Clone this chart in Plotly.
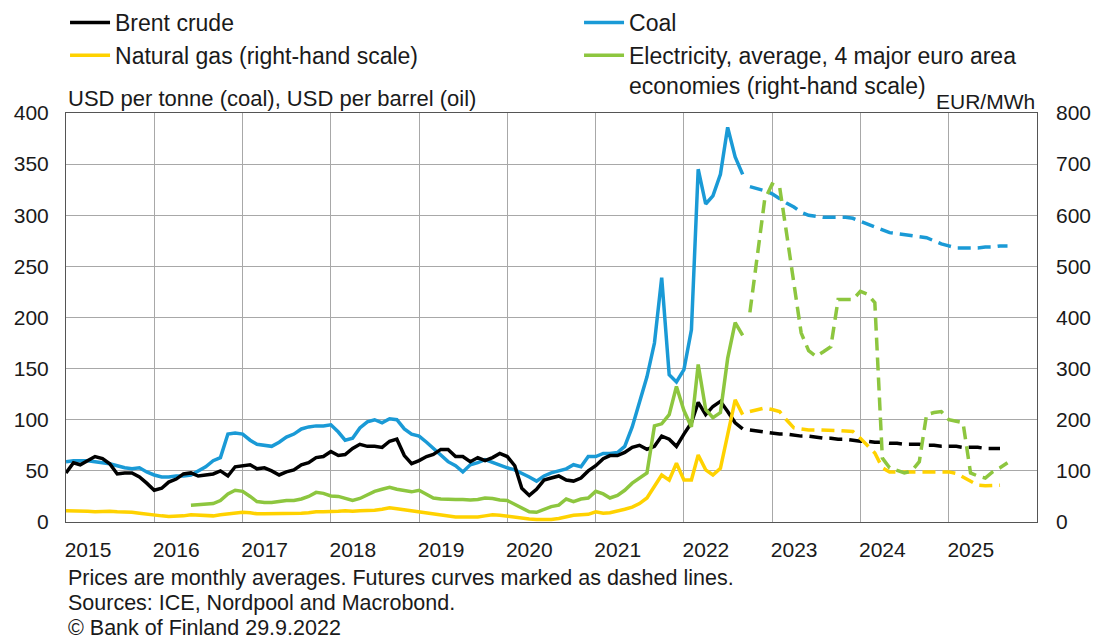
import pandas as pd
import plotly.graph_objects as go

# monthly averages, Jan 2015 - Sep 2022
months = pd.date_range("2015-01-01", "2022-09-01", freq="MS")
elec_months = pd.date_range("2016-06-01", "2022-09-01", freq="MS")
# futures curves
fut_months = pd.date_range("2022-10-01", "2025-09-01", freq="MS")
years = list(range(2015, 2026))

brent = [
    48, 58, 56, 60, 64, 62, 57, 47, 48, 48, 44, 38,
    31, 33, 39, 42, 47, 48, 45, 46, 47, 50, 45, 54,
    55, 56, 52, 53, 50, 46, 49, 51, 56, 58, 63, 64,
    69, 65, 66, 72, 76, 74, 74, 73, 79, 81, 65, 57,
    60, 64, 66, 71, 71, 64, 64, 59, 63, 60, 63, 67,
    64, 55, 33, 26, 32, 41, 43, 45, 41, 40, 43, 50,
    55, 62, 65, 65, 68, 73, 75, 71, 74, 84, 81, 74,
    86, 97, 117, 105, 113, 118, 108, 97, 91,
]
coal = [
    59, 60, 60, 60, 59, 58, 57, 55, 53, 52, 53, 49,
    46, 44, 44, 45, 45, 46, 50, 54, 60, 63, 86, 87,
    86, 80, 76, 75, 74, 78, 83, 86, 91, 93, 94, 94,
    95, 88, 80, 82, 92, 98, 100, 97, 101, 100, 91, 86,
    84, 78, 72, 65, 59, 55, 49, 56, 58, 61, 58, 56,
    53, 51, 48, 44, 40, 45, 48, 50, 52, 56, 54, 64,
    64, 67, 67, 68, 74, 93, 116, 142, 175, 239, 144, 137,
    149, 188, 345, 311, 319, 340, 386, 357, 340,
]
gas = [
    22, 22, 21, 21, 20, 21, 21, 20, 20, 19, 17, 15,
    13, 12, 11, 11, 12, 14, 13, 12, 12, 14, 16, 17,
    19, 18, 16, 16, 16, 16, 16, 16, 17, 18, 20, 20,
    20, 21, 22, 21, 22, 22, 23, 25, 28, 26, 24, 22,
    20, 17, 15, 14, 12, 10, 10, 10, 10, 12, 14, 13,
    11, 10, 8, 6, 5, 5, 5, 7, 10, 13, 14, 15,
    20, 17, 18, 21, 25, 29, 36, 47, 69, 92, 82, 115,
    82, 82, 131, 102, 92, 105, 171, 239, 210,
]
electricity = [
    33, 34, 34, 36, 42, 55, 62,
    60, 50, 40, 38, 38, 40, 42, 42, 45, 50, 58, 56,
    51, 50, 47, 42, 46, 53, 60, 64, 68, 64, 61, 59,
    62, 55, 47, 45, 44, 44, 44, 43, 44, 47, 46, 43,
    42, 34, 28, 20, 19, 24, 30, 33, 45, 40, 45, 47,
    60, 55, 47, 52, 62, 76, 86, 96, 188, 192, 210, 265,
    218, 186, 308, 220, 204, 214, 320, 390, 365,
]

brent_fut = [
    90, 89, 88, 87, 86, 86, 85, 84, 84, 83, 82, 82,
    81, 81, 80, 79, 79, 78, 78, 77, 77, 76, 76, 76,
    75, 75, 74, 74, 74, 73, 73, 73, 72, 72, 72,
]
coal_fut = [
    328, 326, 324, 321, 316, 312, 308, 303, 300, 299, 298, 298,
    298, 298, 297, 294, 291, 288, 285, 283, 282, 281, 280, 279,
    278, 275, 272, 270, 268, 268, 268, 268, 269, 269, 270, 270,
]
gas_fut = [
    216, 220, 223, 220, 216, 200, 184, 182, 180, 180, 180, 180,
    179, 178, 177, 164, 150, 135, 106, 98, 98, 98, 98, 98,
    98, 98, 98, 98, 95, 88, 80, 72, 71, 71, 72,
]
electricity_fut = [
    410, 520, 630, 661, 655, 567, 461, 370, 335, 324, 333, 343,
    435, 435, 435, 451, 445, 429, 125, 106, 100, 96, 100, 118,
    210, 214, 216, 200, 197, 194, 96, 90, 86, 98, 106, 116,
]

BLACK = "#000000"
BLUE = "#1A9AD6"
YELLOW = "#FFD200"
GREEN = "#8DC63F"
DASH = "13px,7px"
GRID = "#A8A8A8"

fig = go.Figure()

fig.add_trace(go.Scatter(x=months, y=gas, name="Natural gas (right-hand scale)", yaxis="y2",
                         line=dict(color=YELLOW, width=3.5), legendrank=3))
fig.add_trace(go.Scatter(x=fut_months[:len(gas_fut)], y=gas_fut, yaxis="y2", showlegend=False,
                         line=dict(color=YELLOW, width=3.5, dash=DASH)))
fig.add_trace(go.Scatter(x=elec_months, y=electricity,
                         name="Electricity, average, 4 major euro area<br>economies (right-hand scale)",
                         yaxis="y2", line=dict(color=GREEN, width=3.5), legendrank=4))
fig.add_trace(go.Scatter(x=fut_months[:len(electricity_fut)], y=electricity_fut, yaxis="y2", showlegend=False,
                         line=dict(color=GREEN, width=3.5, dash=DASH)))
fig.add_trace(go.Scatter(x=months, y=coal, name="Coal",
                         line=dict(color=BLUE, width=3.5), legendrank=2))
fig.add_trace(go.Scatter(x=fut_months[:len(coal_fut)], y=coal_fut, showlegend=False,
                         line=dict(color=BLUE, width=3.5, dash=DASH)))
fig.add_trace(go.Scatter(x=months, y=brent, name="Brent crude",
                         line=dict(color=BLACK, width=3.5), legendrank=1))
fig.add_trace(go.Scatter(x=fut_months[:len(brent_fut)], y=brent_fut, showlegend=False,
                         line=dict(color=BLACK, width=3.5, dash=DASH)))

fig.update_layout(
    width=1096,
    height=640,
    margin=dict(l=66, r=59, t=113, b=118, autoexpand=False),
    paper_bgcolor="white",
    plot_bgcolor="white",
    font=dict(family="Liberation Sans, Arial, sans-serif", size=21, color="#1a1a1a"),
    legend=dict(
        orientation="h",
        x=-0.001,
        y=1.274,
        xanchor="left",
        yanchor="top",
        entrywidth=459,
        itemwidth=40,
        font=dict(size=23),
        valign="top",
        bgcolor="rgba(0,0,0,0)",
    ),
    xaxis=dict(
        type="date",
        range=["2015-01-01", "2026-01-01"],
        tickvals=[f"{y}-01-01" for y in years],
        ticktext=[str(y) for y in years],
        ticks="",
        ticklabelshift=22,
        ticklabelstandoff=9,
        showgrid=True,
        gridcolor=GRID,
        gridwidth=1,
        showline=True,
        linecolor="#555555",
        linewidth=1,
        mirror=True,
        zeroline=False,
        automargin=False,
    ),
    yaxis=dict(
        range=[0, 400],
        dtick=50,
        ticks="",
        ticklabelstandoff=12,
        showgrid=True,
        gridcolor=GRID,
        gridwidth=1,
        showline=True,
        linecolor="#555555",
        mirror=True,
        zeroline=False,
        automargin=False,
    ),
    yaxis2=dict(
        range=[0, 800],
        dtick=100,
        overlaying="y",
        side="right",
        ticks="",
        ticklabelstandoff=18,
        showgrid=False,
        zeroline=False,
        automargin=False,
    ),
    showlegend=True,
)

fig.add_annotation(text="USD per tonne (coal), USD per barrel (oil)", xref="paper", yref="paper",
                   x=0, y=1, xanchor="left", yanchor="bottom", showarrow=False, font=dict(size=22))
fig.add_annotation(text="EUR/MWh", xref="paper", yref="paper", yshift=-2,
                   x=1, y=1, xanchor="right", yanchor="bottom", showarrow=False, font=dict(size=21))

notes = [
    "Prices are monthly averages. Futures curves marked as dashed lines.",
    "Sources: ICE, Nordpool and Macrobond.",
    "© Bank of Finland 29.9.2022",
]
for i, note in enumerate(notes):
    fig.add_annotation(text=note, xref="paper", yref="paper", x=0, y=-0.137 - i * 0.061,
                       xanchor="left", yanchor="middle", showarrow=False, font=dict(size=21.5))

fig.write_html("out.html", post_script="document.body.style.margin='0';",
               config={"displayModeBar": False})
